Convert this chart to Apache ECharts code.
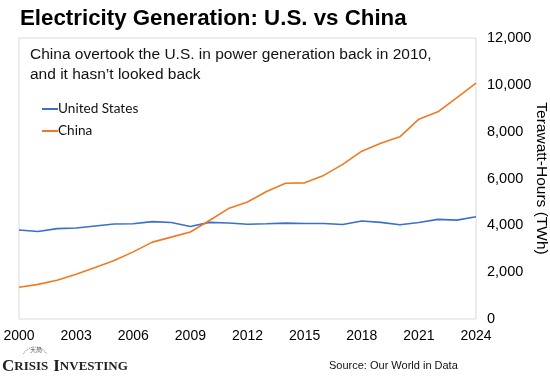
<!DOCTYPE html>
<html><head><meta charset="utf-8">
<script src="https://cdn.jsdelivr.net/npm/echarts@6/dist/echarts.min.js"></script>
<style>html,body{margin:0;padding:0;background:#fff}#c{width:550px;height:379px}</style>
</head><body><div id="c"></div>
<script>
const years = [2000,2001,2002,2003,2004,2005,2006,2007,2008,2009,2010,2011,2012,2013,2014,2015,2016,2017,2018,2019,2020,2021,2022,2023,2024];
const usValues = [3802,3737,3858,3883,3971,4055,4065,4157,4119,3950,4125,4100,4048,4066,4094,4078,4077,4035,4183,4128,4025,4123,4253,4222,4366];
const chinaValues = [1356,1480,1654,1911,2204,2500,2866,3282,3496,3715,4208,4716,4994,5447,5794,5815,6133,6604,7166,7503,7779,8534,8849,9456,10070];
const xTicks = [2000,2003,2006,2009,2012,2015,2018,2021,2024];
const yTicks = [0,2000,4000,6000,8000,10000,12000];

const chart = echarts.init(document.getElementById('c'), null, {renderer:'canvas'});
const fmt = v => v.toString().replace(/\B(?=(\d{3})+(?!\d))/g, ',');
chart.setOption({
  animation:false,
  backgroundColor:'#fff',
  title:[
    {text:'Electricity Generation: U.S. vs China', left:15, top:3,
     textStyle:{fontFamily:'Liberation Sans, Arial', fontWeight:'bold', fontSize:22.3, color:'#000'}},
    {text:'China overtook the U.S. in power generation back in 2010,\nand it hasn\u2019t looked back', left:25, top:40,
     textStyle:{fontFamily:'Liberation Sans, Arial', fontWeight:'normal', fontSize:15.5, color:'#111', lineHeight:20}},
    {text:'Source: Our World in Data', left:324, top:355,
     textStyle:{fontFamily:'Liberation Sans, Arial', fontWeight:'normal', fontSize:11, color:'#111'}},
    {text:'{b|C}{s|RISIS} {b|I}{s|NVESTING}', left:-3, top:353,
     textStyle:{rich:{
       b:{fontFamily:'Liberation Serif, Times New Roman', fontSize:17, color:'#222'},
       s:{fontFamily:'Liberation Serif, Times New Roman', fontSize:13, color:'#222'}}}}
  ],
  graphic:[
    {type:'arc', shape:{cx:35, cy:360, r:13, startAngle:Math.PI*1.15, endAngle:Math.PI*1.85},
     style:{stroke:'#999', lineWidth:1.2, fill:null, lineDash:[1,1]}},
    {type:'text', left:30, top:347, style:{text:'\u5927\u5c40', fontSize:6, fill:'#555', fontFamily:'Noto Sans CJK SC'}}
  ],
  legend:{
    orient:'vertical', left:37, top:97, itemGap:8, itemWidth:16, itemHeight:2,
    icon:'rect', itemStyle:{borderWidth:0},
    textStyle:{fontFamily:'Lato, Open Sans, sans-serif', fontSize:13.6, color:'#111', padding:[0,0,0,-5]},
    data:['United States','China']
  },
  grid:{left:19, right:74, top:38, bottom:60, show:true, borderColor:'#d9d9d9', borderWidth:1, containLabel:false, outerBoundsMode:'none'},
  xAxis:{
    type:'value', min:2000, max:2024, interval:3,
    axisLine:{show:false}, axisTick:{show:false}, splitLine:{show:false},
    axisLabel:{margin:10, fontFamily:'Liberation Sans, Arial', fontSize:14, color:'#000', formatter:v=>String(v),
      showMinLabel:true, showMaxLabel:true}
  },
  yAxis:{
    type:'value', position:'right', min:0, max:12000, interval:2000,
    name:'Terawatt-Hours (TWh)', nameLocation:'middle', nameRotate:-90, nameGap:57, nameMoveOverlap:false,
    nameTextStyle:{fontFamily:'Liberation Sans, Arial', fontSize:15.5, color:'#000'},
    axisLine:{show:false}, axisTick:{show:false}, splitLine:{show:false},
    axisLabel:{margin:11, fontFamily:'Liberation Sans, Arial', fontSize:14.5, color:'#000', formatter:v=>fmt(v)}
  },
  series:[
    {name:'United States', type:'line', showSymbol:false, symbol:'none', color:'#3a6fd0',
     lineStyle:{width:1.6, color:'#3a6fd0'}, data:years.map((y,i)=>[y,usValues[i]])},
    {name:'China', type:'line', showSymbol:false, symbol:'none', color:'#f07a22',
     lineStyle:{width:1.6, color:'#f07a22'}, data:years.map((y,i)=>[y,chinaValues[i]])}
  ]
});
</script></body></html>
